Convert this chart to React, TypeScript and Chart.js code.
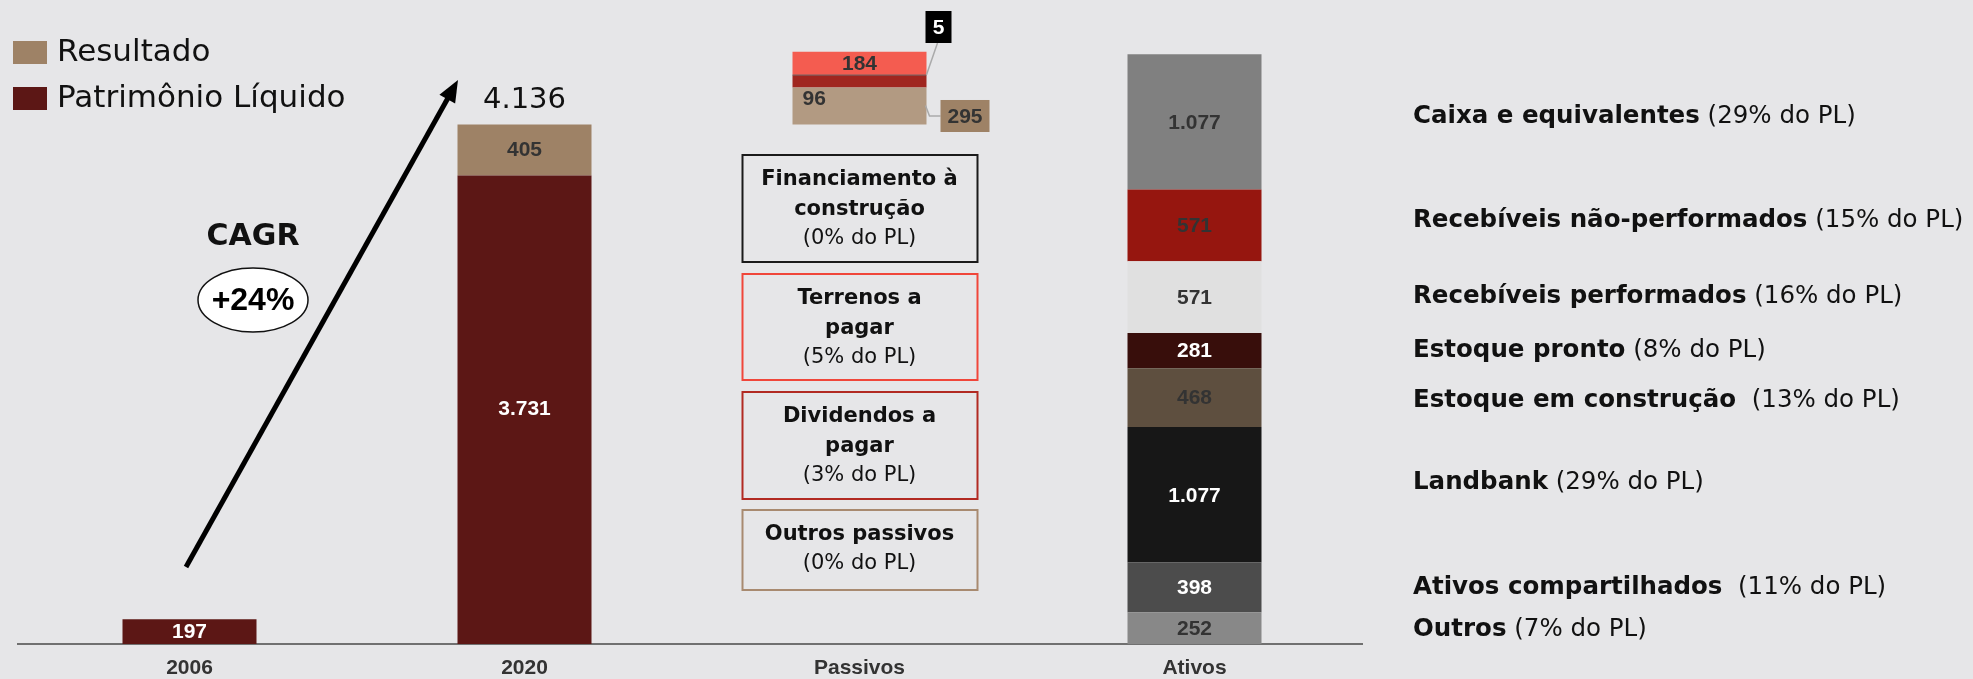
import React, { useEffect, useRef } from 'react';
import { Chart, registerables } from 'chart.js';
Chart.register(...registerables);

const categories = ['2006', '2020', 'Passivos', 'Ativos'];
const patrimonioValues = [197, 3731, null, null];
const resultadoValues = [null, 405, null, null];

const passivosNames = ['Outros passivos', 'Dividendos a pagar', 'Financiamento à construção', 'Terrenos a pagar'];
const passivosValues = [295, 96, 5, 184];
const passivosPct = ['0%', '3%', '0%', '5%'];
const passivosBoxLines = [['Outros passivos'], ['Dividendos a', 'pagar'], ['Financiamento à', 'construção'], ['Terrenos a', 'pagar']];

const ativosNames = ['Outros', 'Ativos compartilhados', 'Landbank', 'Estoque em construção', 'Estoque pronto', 'Recebíveis performados', 'Recebíveis não-performados', 'Caixa e equivalentes'];
const ativosValues = [252, 398, 1077, 468, 281, 571, 571, 1077];
const ativosPct = ['7%', '11%', '29%', '13%', '8%', '16%', '15%', '29%'];
const ativosGap = [' ', '  ', ' ', '  ', ' ', ' ', ' ', ' '];

const cagrText = '+24%';

const PL_COLOR = '#5c1715';
const RES_COLOR = '#9e8266';
const passivosColors = ['#b29a82', '#a0261f', '#000000', '#f45c50'];
const passivosBorder = ['#a88a70', '#b22a22', '#1a1a1a', '#f0463a'];
const ativosColors = ['#888888', '#4c4c4c', '#171717', '#5e4f3f', '#380e0b', '#e0e0e0', '#96160f', '#808080'];
const ativosText = ['#333333', '#ffffff', '#ffffff', '#333333', '#ffffff', '#333333', '#333333', '#333333'];
const ativosTextY = [630, 588, 483, 401, 351, 297, 221, 117];
const boxTops = [510, 392, 155, 274];
const boxHeights = [80, 107, 107, 106];

const BG = '#e6e6e8';
const GOTHIC = '"DejaVu Sans", sans-serif';
const ARIAL = '"Liberation Sans", Arial, sans-serif';

function fmt(v: number): string {
  return String(v).replace(/\B(?=(\d{3})+(?!\d))/g, '.');
}

export default function App() {
  const ref = useRef<HTMLCanvasElement>(null);

  useEffect(() => {
    const canvas = ref.current!;
    const pIdx = categories.indexOf('Passivos');
    const aIdx = categories.indexOf('Ativos');
    const plTotal = (patrimonioValues[1] ?? 0) + (resultadoValues[1] ?? 0);
    const at = (i: number, v: number | null) => categories.map((_, k) => (k === i ? v : null));

    const datasets: any[] = [
      { label: 'Patrimônio Líquido', data: patrimonioValues, backgroundColor: PL_COLOR },
      { label: 'Resultado', data: resultadoValues, backgroundColor: RES_COLOR },
      { label: '_base', data: at(pIdx, plTotal), backgroundColor: 'rgba(0,0,0,0)' },
      ...passivosValues.map((v, i) => ({ label: passivosNames[i], data: at(pIdx, v), backgroundColor: passivosColors[i] })),
      ...ativosValues.map((v, i) => ({ label: ativosNames[i], data: at(aIdx, v), backgroundColor: ativosColors[i] })),
    ];
    datasets.forEach((d) => {
      d.stack = 's';
      d.borderWidth = 0;
      d.categoryPercentage = 0.8;
      d.barPercentage = 0.5;
    });

    const overlay = {
      id: 'overlay',
      afterDraw(chart: any) {
        const ctx = chart.ctx as CanvasRenderingContext2D;
        ctx.save();
        const el = (ds: number, idx: number) => chart.getDatasetMeta(ds).data[idx];

        // axis line extension to the left
        const ay = Math.round(chart.scales.x.top);
        ctx.fillStyle = '#707070';
        ctx.fillRect(17, ay - 1, chart.chartArea.left - 17 + 1, 2);

        // Legend
        ctx.fillStyle = RES_COLOR;
        ctx.fillRect(13, 41, 34, 23);
        ctx.fillStyle = PL_COLOR;
        ctx.fillRect(13, 87, 34, 23);
        ctx.fillStyle = '#111';
        ctx.font = `31px ${GOTHIC}`;
        ctx.textAlign = 'left';
        ctx.textBaseline = 'middle';
        ctx.fillText('Resultado', 57, 53);
        ctx.fillText('Patrimônio Líquido', 57, 99);

        const label = (text: string, x: number, y: number, color: string, align: CanvasTextAlign = 'center') => {
          ctx.font = `bold 21px ${ARIAL}`;
          ctx.fillStyle = color;
          ctx.textAlign = align;
          ctx.textBaseline = 'middle';
          ctx.fillText(text, x, y);
        };

        // 2006 / 2020
        const b06 = el(0, 0);
        label(fmt(patrimonioValues[0] as number), b06.x, (b06.y + b06.base) / 2 + 1, '#ffffff');
        const b20 = el(0, 1);
        label(fmt(patrimonioValues[1] as number), b20.x, (b20.y + b20.base) / 2, '#ffffff');
        const r20 = el(1, 1);
        label(fmt(resultadoValues[1] as number), r20.x, (r20.y + r20.base) / 2, '#333333');

        // total above 2020
        ctx.font = `29px ${GOTHIC}`;
        ctx.fillStyle = '#111';
        ctx.textAlign = 'center';
        ctx.fillText(fmt(plTotal), r20.x, r20.y - 24);

        // Arrow
        const x0 = 186, y0 = 567, x1 = 458, y1 = 80;
        const dx = x1 - x0, dy = y1 - y0;
        const len = Math.hypot(dx, dy);
        const ux = dx / len, uy = dy / len;
        ctx.strokeStyle = '#000';
        ctx.lineWidth = 5;
        ctx.beginPath();
        ctx.moveTo(x0, y0);
        ctx.lineTo(x1 - ux * 16, y1 - uy * 16);
        ctx.stroke();
        ctx.fillStyle = '#000';
        ctx.beginPath();
        ctx.moveTo(x1, y1);
        ctx.lineTo(x1 - ux * 22 - uy * 9, y1 - uy * 22 + ux * 9);
        ctx.lineTo(x1 - ux * 22 + uy * 9, y1 - uy * 22 - ux * 9);
        ctx.closePath();
        ctx.fill();

        // CAGR
        ctx.font = `bold 30px ${GOTHIC}`;
        ctx.fillStyle = '#111';
        ctx.textAlign = 'center';
        ctx.fillText('CAGR', 253, 237);
        ctx.beginPath();
        ctx.ellipse(253, 300, 55, 32, 0, 0, Math.PI * 2);
        ctx.fillStyle = '#ffffff';
        ctx.fill();
        ctx.lineWidth = 1.5;
        ctx.strokeStyle = '#111';
        ctx.stroke();
        ctx.font = `bold 32px ${ARIAL}`;
        ctx.fillStyle = '#000';
        ctx.fillText(cagrText, 253, 301);

        // Passivos labels
        const pBase = 3;
        const pOut = el(pBase + 0, pIdx);
        const pDiv = el(pBase + 1, pIdx);
        const pFin = el(pBase + 2, pIdx);
        const pTer = el(pBase + 3, pIdx);
        const right = pOut.x + pOut.width / 2;
        const left = pOut.x - pOut.width / 2;
        label(fmt(passivosValues[3]), pTer.x, (pTer.y + pTer.base) / 2 + 1, '#333333');
        label(fmt(passivosValues[1]), left + 10, pDiv.y + 24, '#333333', 'left');
        // 295 callout
        const cy = (pOut.y + pOut.base) / 2 + 10;
        ctx.strokeStyle = '#aaaaaa';
        ctx.lineWidth = 1.5;
        ctx.beginPath();
        ctx.moveTo(right - 1, pOut.y + 18);
        ctx.lineTo(right + 3, cy);
        ctx.lineTo(right + 14, cy);
        ctx.stroke();
        ctx.fillStyle = RES_COLOR;
        ctx.fillRect(right + 14, cy - 16, 49, 32);
        label(fmt(passivosValues[0]), right + 38.5, cy + 1, '#333333');
        // 5 callout
        ctx.strokeStyle = '#aaaaaa';
        ctx.beginPath();
        ctx.moveTo(right, pFin.y);
        ctx.lineTo(right + 11, 43);
        ctx.stroke();
        ctx.fillStyle = '#000';
        ctx.fillRect(right - 1, 11, 26, 32);
        label(fmt(passivosValues[2]), right + 12, 28, '#ffffff');

        // Passivos boxes
        for (let i = 0; i < passivosNames.length; i++) {
          const top = boxTops[i], h = boxHeights[i];
          const bx = pOut.x - 117;
          ctx.fillStyle = BG;
          ctx.fillRect(bx, top, 235, h);
          ctx.strokeStyle = passivosBorder[i];
          ctx.lineWidth = 2;
          ctx.strokeRect(bx, top, 235, h);
          ctx.fillStyle = '#111';
          ctx.textAlign = 'center';
          ctx.textBaseline = 'middle';
          const lines = passivosBoxLines[i];
          lines.forEach((ln, k) => {
            ctx.font = `bold 21px ${GOTHIC}`;
            ctx.fillText(ln, pOut.x, top + 25 + k * 30);
          });
          ctx.font = `21px ${GOTHIC}`;
          ctx.fillText(`(${passivosPct[i]} do PL)`, pOut.x, top + 25 + lines.length * 30 - 1);
        }

        // Ativos labels and right texts
        const aBase = 3 + passivosValues.length;
        for (let i = 0; i < ativosValues.length; i++) {
          const b = el(aBase + i, aIdx);
          label(fmt(ativosValues[i]), b.x, (b.y + b.base) / 2 + 1, ativosText[i]);
          const y = ativosTextY[i];
          ctx.textAlign = 'left';
          ctx.textBaseline = 'middle';
          ctx.fillStyle = '#111';
          ctx.font = `bold 24.5px ${GOTHIC}`;
          ctx.fillText(ativosNames[i], 1413, y);
          const w = ctx.measureText(ativosNames[i]).width;
          ctx.font = `24.5px ${GOTHIC}`;
          ctx.fillText(`${ativosGap[i]}(${ativosPct[i]} do PL)`, 1413 + w, y);
        }
        ctx.restore();
      },
    };

    const chart = new Chart(canvas, {
      type: 'bar',
      data: { labels: categories, datasets },
      options: {
        animation: false,
        responsive: false,
        layout: { padding: { left: 22, right: 611, top: 16, bottom: 0 } },
        plugins: { legend: { display: false }, tooltip: { enabled: false } },
        scales: {
          x: {
            stacked: true,
            grid: { display: false, drawTicks: false },
            border: { display: true, color: '#707070', width: 2 },
            ticks: { color: '#333333', font: { family: ARIAL, size: 21, weight: 'bold' }, padding: 12 },
            afterFit: (scale: any) => { scale.height = 35; },
          },
          y: { stacked: true, display: false, min: 0, max: 5000 },
        },
      },
      plugins: [overlay],
    } as any);
    return () => chart.destroy();
  }, []);

  return (
    <div style={{ position: 'fixed', left: 0, top: 0, width: 1973, height: 679, background: BG }}>
      <canvas ref={ref} width={1973} height={679} style={{ display: 'block' }} />
    </div>
  );
}
